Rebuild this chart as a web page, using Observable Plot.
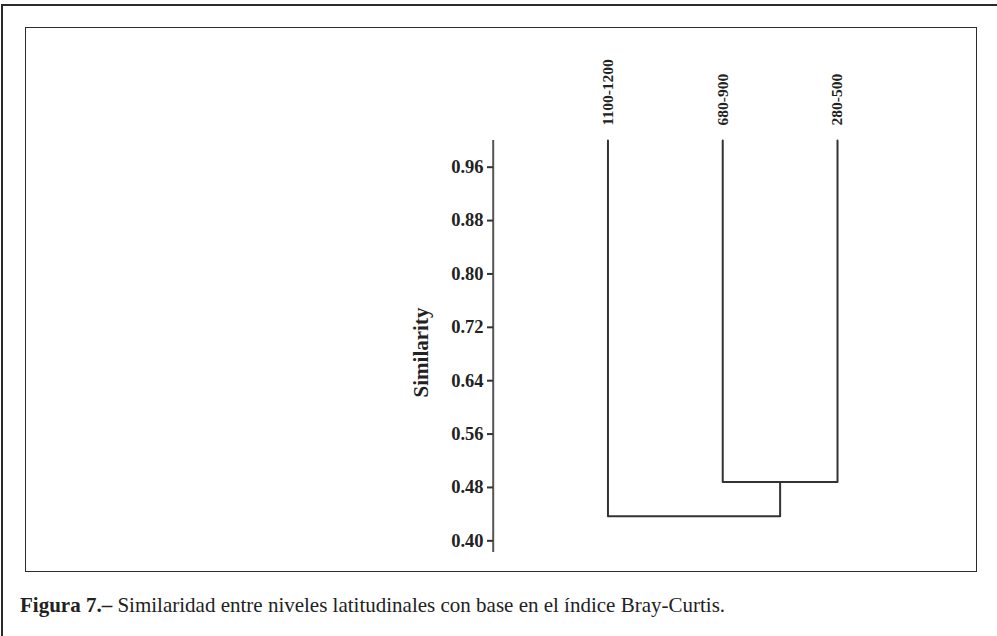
<!DOCTYPE html>
<html>
<head>
<meta charset="utf-8">
<script src="https://cdn.jsdelivr.net/npm/d3@7"></script>
<script src="https://cdn.jsdelivr.net/npm/@observablehq/plot@0.6"></script>
<style>
  html, body { margin: 0; padding: 0; background: #fff; }
  #page { position: relative; width: 997px; height: 636px; overflow: hidden; font-family: "Liberation Serif", "Times New Roman", serif; }
  #outer { position: absolute; left: 1px; top: 4px; width: 1010px; height: 700px; border: 2px solid #2b2b2b; box-sizing: border-box; }
  #inner { position: absolute; left: 25px; top: 27px; width: 952px; height: 545px; border: 1.5px solid #2b2b2b; box-sizing: border-box; }
  #chart { position: absolute; left: 0; top: 0; }
  #caption { position: absolute; left: 20px; top: 593px; font-size: 21px; color: #222; white-space: nowrap; }
  #chart svg text { font-family: "Liberation Serif", "Times New Roman", serif; }
</style>
</head>
<body>
<div id="page">
  <div id="outer"></div>
  <div id="inner"></div>
  <div id="chart"></div>
  <div id="caption"><b>Figura 7.–</b> Similaridad entre niveles latitudinales con base en el índice Bray-Curtis.</div>
</div>
<script>
// ---- data ----
const leaves = ["1100-1200", "680-900", "280-500"];
// linkage: [childA, childB, similarity]; indices >= leaves.length refer to earlier merges
const mergeA = [1, 0];
const mergeB = [2, 3];
const mergeHeight = [0.488, 0.437];
const tickValues = [0.40, 0.48, 0.56, 0.64, 0.72, 0.80, 0.88, 0.96];
const axisLabel = "Similarity";
const leafTop = 1.0;
const yMin = 0.3825;

// ---- build dendrogram paths ----
const pos = leaves.map((d, i) => i);
const hgt = leaves.map(() => leafTop);
const pathPts = [];
mergeA.forEach((a, k) => {
  const b = mergeB[k], h = mergeHeight[k];
  pathPts.push({x: pos[a], y: hgt[a], z: k});
  pathPts.push({x: pos[a], y: h, z: k});
  pathPts.push({x: pos[b], y: h, z: k});
  pathPts.push({x: pos[b], y: hgt[b], z: k});
  pos.push((pos[a] + pos[b]) / 2);
  hgt.push(h);
});

const chart = Plot.plot({
  width: 997,
  height: 600,
  marginLeft: 493,
  marginRight: 160,
  marginTop: 140,
  marginBottom: 48,
  x: {domain: [-1, leaves.length - 1], range: [492.7, 837], axis: null},
  y: {domain: [yMin, leafTop]},
  marks: [
    Plot.ruleX([-1], {y1: yMin, y2: leafTop, stroke: "#555", strokeWidth: 2}),
    Plot.axisY({
      ticks: tickValues,
      tickFormat: d => d.toFixed(2),
      tickSize: 6,
      tickPadding: 4,
      fontSize: 18.5,
      fontWeight: "bold",
      stroke: "#333",
      strokeWidth: 2,
      fill: "#222",
      label: null
    }),
    Plot.text([axisLabel], {
      x: -1, y: (yMin + leafTop) / 2, dx: -72, dy: 6,
      text: d => d, rotate: -90, fontSize: 21, fontWeight: "bold", fill: "#222"
    }),
    Plot.line(pathPts, {x: "x", y: "y", z: "z", stroke: "#333", strokeWidth: 2, strokeLinejoin: "round", curve: "linear"}),
    Plot.text(leaves, {
      x: (d, i) => i, y: leafTop, text: d => d, rotate: -90,
      textAnchor: "start", dy: -15, fontSize: 15.5, fontWeight: "bold", fill: "#222"
    })
  ]
});
document.getElementById("chart").appendChild(chart);
</script>
</body>
</html>
